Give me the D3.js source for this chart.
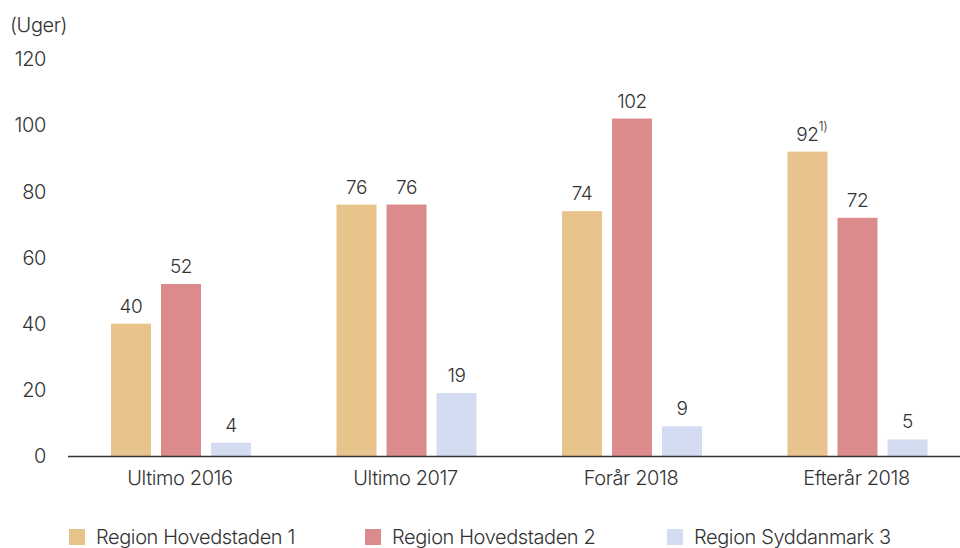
<!DOCTYPE html>
<html lang="da">
<head>
    <meta charset="UTF-8">
    <title>Uger</title>
    <style>
        body, html {
            margin: 0;
            padding: 0;
            background: #fff;
            font-family: Inter, "Open Sans", sans-serif;
        }
        #chart { width: 960px; height: 548px; }
        text { fill: #333; letter-spacing: -0.4px; font-weight: 350; }
    </style>
    <script src="https://d3js.org/d3.v7.min.js"></script>
</head>
<body>
    <div id="chart"></div>
    <script>
        const categories = ["Ultimo 2016", "Ultimo 2017", "Forår 2018", "Efterår 2018"];
        const series = ["Region Hovedstaden 1", "Region Hovedstaden 2", "Region Syddanmark 3"];
        const hovedstaden1 = [40, 76, 74, 92];
        const hovedstaden2 = [52, 76, 102, 72];
        const syddanmark3 = [4, 19, 9, 5];
        const yTicks = [0, 20, 40, 60, 80, 100, 120];
        const colors = ["#E9C38C", "#DB8B8B", "#D3DCF0"];

        const values = [hovedstaden1, hovedstaden2, syddanmark3];

        const width = 960, height = 548;
        const svg = d3.select("#chart").append("svg")
            .attr("width", width)
            .attr("height", height);

        const y = d3.scaleLinear().domain([0, 120]).range([456, 59]);

        const x0 = d3.scaleBand()
            .domain(categories)
            .range([68, 970]);

        const x1 = d3.scaleBand()
            .domain(series)
            .range([38, 188])
            .paddingInner(0.2)
            .paddingOuter(0.1);

        // y tick labels
        svg.append("g").selectAll("text")
            .data(yTicks)
            .enter().append("text")
            .attr("x", 46)
            .attr("y", d => y(d))
            .attr("dy", "0.36em")
            .attr("text-anchor", "end")
            .style("font-size", "20px")
            .text(d => d);

        svg.append("text")
            .attr("x", 10)
            .attr("y", 25)
            .attr("dy", "0.36em")
            .style("font-size", "20px")
            .text("(Uger)");

        // bars
        const groups = svg.append("g").selectAll("g")
            .data(categories)
            .enter().append("g")
            .attr("transform", d => `translate(${x0(d)},0)`);

        groups.selectAll("rect")
            .data((c, i) => series.map((s, j) => ({ s, j, v: values[j][i] })))
            .enter().append("rect")
            .attr("x", d => x1(d.s))
            .attr("y", d => y(d.v))
            .attr("width", x1.bandwidth())
            .attr("height", d => y(0) - y(d.v))
            .attr("fill", d => colors[d.j]);

        groups.selectAll("text.val")
            .data((c, i) => series.map((s, j) => ({ s, j, v: values[j][i] })))
            .enter().append("text")
            .attr("class", "val")
            .attr("x", d => x1(d.s) + x1.bandwidth() / 2)
            .attr("y", d => y(d.v) - 11)
            .attr("text-anchor", "middle")
            .style("font-size", "19px")
            .text(d => d.v);

        // footnote marker on Efterår 2018, Region Hovedstaden 1
        svg.append("text")
            .attr("x", x0("Efterår 2018") + x1(series[0]) + x1.bandwidth() / 2 + 11)
            .attr("y", y(hovedstaden1[3]) - 21)
            .style("font-size", "13px")
            .text("1)");

        // x axis
        svg.append("line")
            .attr("x1", 68).attr("x2", 960)
            .attr("y1", y(0) + 0.5).attr("y2", y(0) + 0.5)
            .attr("stroke", "#333")
            .attr("stroke-width", 1.3);

        svg.append("g").selectAll("text")
            .data(categories)
            .enter().append("text")
            .attr("x", d => x0(d) + x1(series[1]) + x1.bandwidth() / 2 - 1)
            .attr("y", 478)
            .attr("dy", "0.36em")
            .attr("text-anchor", "middle")
            .style("font-size", "20px")
            .text(d => d);

        // legend
        const legendX = [69, 365, 667];
        const legend = svg.append("g").selectAll("g")
            .data(series)
            .enter().append("g")
            .attr("transform", (d, i) => `translate(${legendX[i]},529)`);

        legend.append("rect")
            .attr("width", 16)
            .attr("height", 16)
            .attr("fill", (d, i) => colors[i]);

        legend.append("text")
            .attr("x", 27)
            .attr("y", 8)
            .attr("dy", "0.36em")
            .style("font-size", "20px")
            .text(d => d);
    </script>
</body>
</html>
